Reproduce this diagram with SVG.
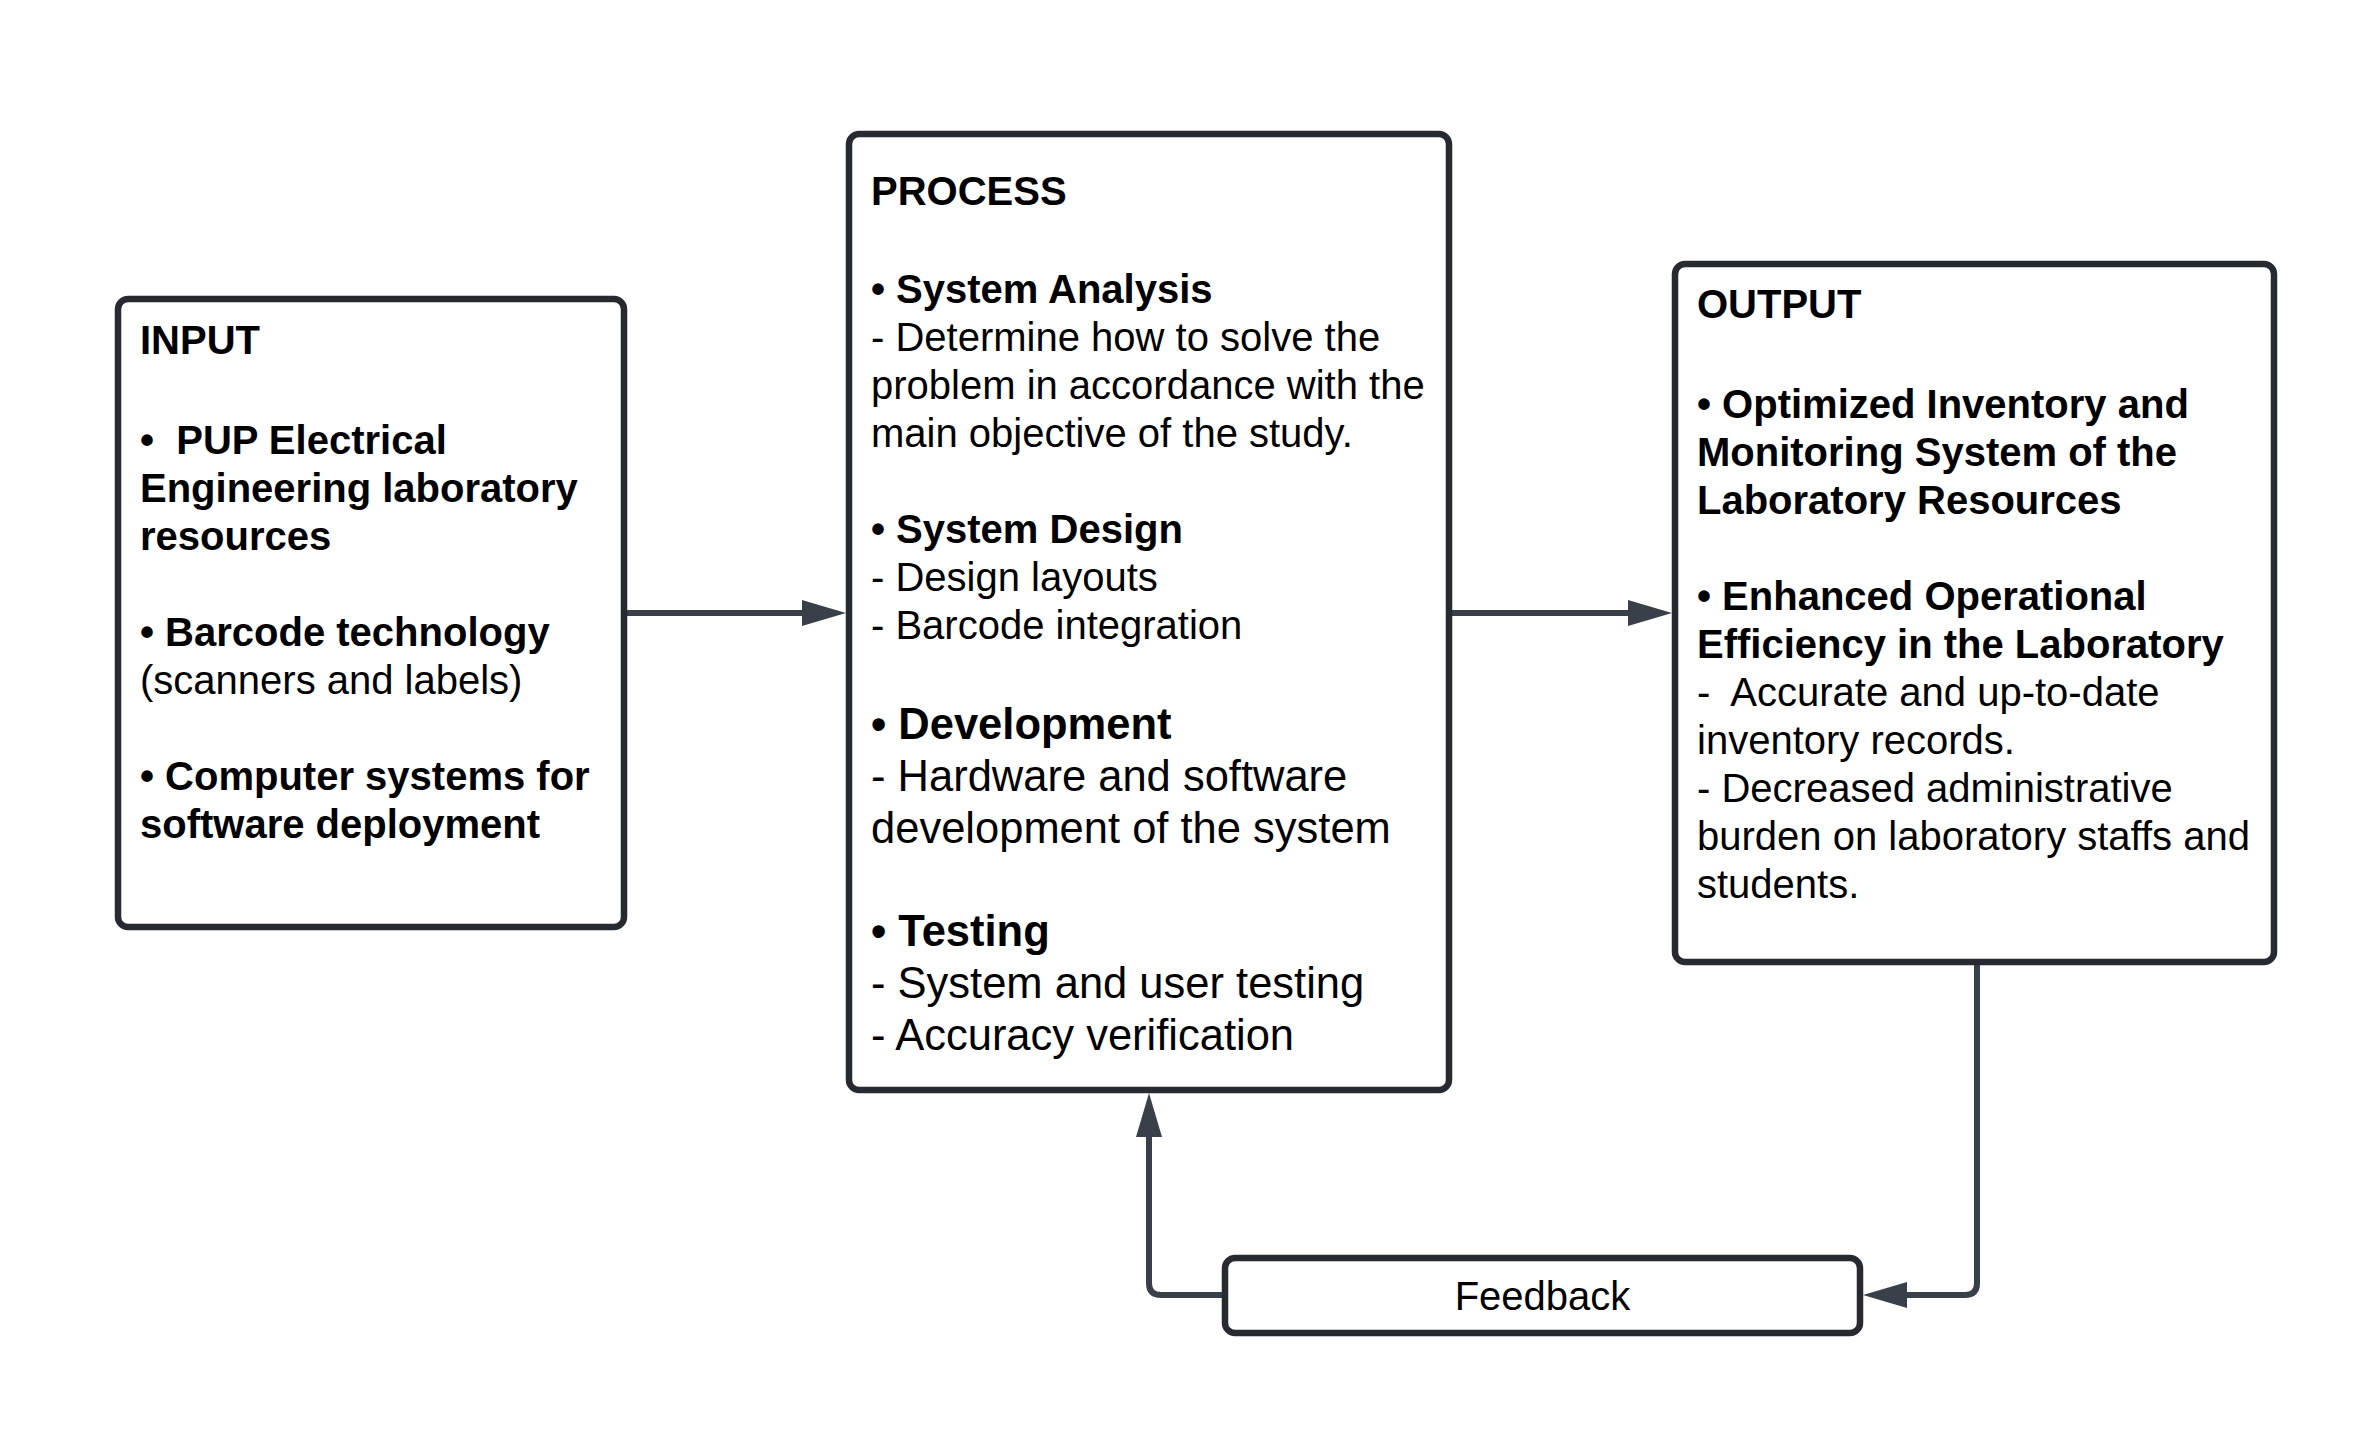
<svg xmlns="http://www.w3.org/2000/svg" width="2368" height="1440" viewBox="0 0 2368 1440">
<style>
.box{fill:#ffffff;stroke:#272b31;stroke-width:6.5}
.conn{fill:none;stroke:#3a4049;stroke-width:6}
text{font-family:"Liberation Sans",Arial,sans-serif;font-size:40px;fill:#000000;white-space:pre}
.b{font-weight:bold}
.big{font-size:43.5px}
</style>
<defs>
<marker id="ah" markerUnits="userSpaceOnUse" markerWidth="44" markerHeight="26" refX="0" refY="13" orient="auto" viewBox="0 0 44 26">
<path d="M0,0 L44,13 L0,26 z" fill="#3a4049"/>
</marker>
</defs>
<rect width="2368" height="1440" fill="#ffffff"/>
<g id="connectors">
<path class="conn" d="M624,613 H802" marker-end="url(#ah)"/>
<path class="conn" d="M1449,613 H1628" marker-end="url(#ah)"/>
<path class="conn" d="M1977,962 V1283 Q1977,1295 1965,1295 H1907" marker-end="url(#ah)"/>
<path class="conn" d="M1225,1295 H1161 Q1149,1295 1149,1283 V1137" marker-end="url(#ah)"/>
</g>
<g id="input">
<rect class="box" x="118" y="299" width="506" height="628" rx="10"/>
<text x="140" y="354" class="b">INPUT</text>
<text x="140" y="454" class="b">•  PUP Electrical</text>
<text x="140" y="502" class="b">Engineering laboratory</text>
<text x="140" y="550" class="b">resources</text>
<text x="140" y="646"><tspan class="b">• Barcode technology</tspan></text>
<text x="140" y="694">(scanners and labels)</text>
<text x="140" y="790" class="b">• Computer systems for</text>
<text x="140" y="838" class="b">software deployment</text>
</g>
<g id="process">
<rect class="box" x="849" y="134" width="600" height="956" rx="10"/>
<text x="871" y="205" class="b">PROCESS</text>
<text x="871" y="303" class="b">• System Analysis</text>
<text x="871" y="351">- Determine how to solve the</text>
<text x="871" y="399">problem in accordance with the</text>
<text x="871" y="447">main objective of the study.</text>
<text x="871" y="543" class="b">• System Design</text>
<text x="871" y="591">- Design layouts</text>
<text x="871" y="639">- Barcode integration</text>
<text x="871" y="739" class="b big">• Development</text>
<text x="871" y="791" class="big">- Hardware and software</text>
<text x="871" y="843" class="big">development of the system</text>
<text x="871" y="946" class="b big">• Testing</text>
<text x="871" y="998" class="big">- System and user testing</text>
<text x="871" y="1050" class="big">- Accuracy verification</text>
</g>
<g id="output">
<rect class="box" x="1675" y="264" width="599" height="698" rx="10"/>
<text x="1697" y="318" class="b">OUTPUT</text>
<text x="1697" y="418" class="b">• Optimized Inventory and</text>
<text x="1697" y="466" class="b">Monitoring System of the</text>
<text x="1697" y="514" class="b">Laboratory Resources</text>
<text x="1697" y="610" class="b">• Enhanced Operational</text>
<text x="1697" y="658" class="b">Efficiency in the Laboratory</text>
<text x="1697" y="706">-  Accurate and up-to-date</text>
<text x="1697" y="754">inventory records.</text>
<text x="1697" y="802">- Decreased administrative</text>
<text x="1697" y="850">burden on laboratory staffs and</text>
<text x="1697" y="898">students.</text>
</g>
<g id="feedback">
<rect class="box" x="1225" y="1258" width="635" height="75" rx="10"/>
<text x="1542.5" y="1310" text-anchor="middle">Feedback</text>
</g>
</svg>
